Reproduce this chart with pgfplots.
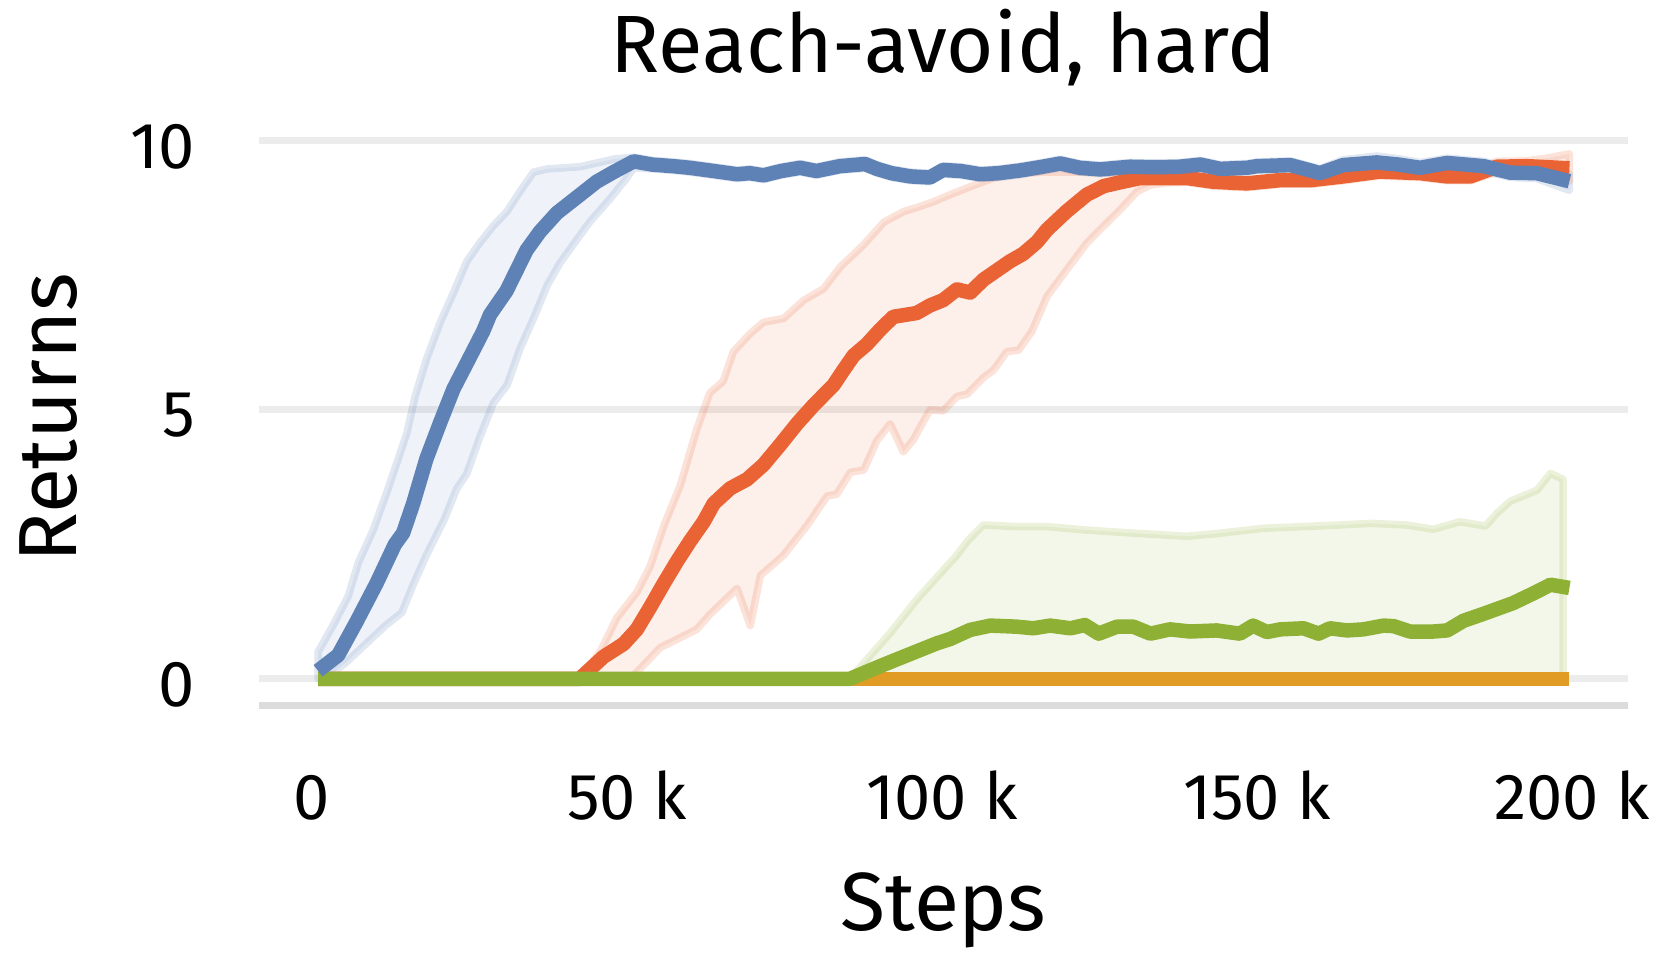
\documentclass[border=0pt]{standalone}
\usepackage{fontspec}
\setmainfont{Fira Sans}
\usepackage{pgfplots}
\pgfplotsset{compat=1.18}
\definecolor{cblue}{RGB}{94,129,182}
\definecolor{cred}{RGB}{234,99,52}
\definecolor{cgreen}{RGB}{142,176,52}
\definecolor{corange}{RGB}{224,156,37}
\definecolor{gridgray}{RGB}{236,236,236}
\definecolor{axisgray}{RGB}{220,220,220}
\begin{document}
\begin{tikzpicture}
\begin{axis}[name=ax,
  scale only axis, width=547.6pt, height=236.7pt,
  xmin=-8.37, xmax=208.9, ymin=-0.5, ymax=10.5,
  axis x line*=bottom, axis y line*=left,
  x axis line style={-, draw=axisgray, line width=2.8pt},
  y axis line style={draw=none},
  xtick={0,50,100,150,200}, xticklabels={0,50 k,100 k,150 k,200 k},
  ytick={0,5,10}, yticklabels={0,5,10},
  major tick length=0pt, tick style={draw=none},
  ymajorgrids, grid style={gridgray, line width=2.8pt},
  /pgf/number format/assume math mode=true,
  xticklabel style={anchor=base, inner sep=0pt, yshift=-45.6pt, font=\fontsize{26}{30}\selectfont},
  yticklabel style={anchor=east, inner sep=0pt, xshift=-25.3pt, yshift=-2.3pt, font=\fontsize{26}{30}\selectfont},
  title={Reach-avoid, hard},
  title style={at={(axis description cs:0.5,1)}, anchor=base, yshift=10.5pt, inner sep=0pt, font=\fontsize{32.5}{40}\selectfont},
  xlabel={Steps},
  xlabel style={at={(axis description cs:0.5,-0.380)}, anchor=base, inner sep=0pt, font=\fontsize{33}{40}\selectfont},
  ylabel={Returns},
  ylabel style={at={(axis description cs:-0.1335,0.487)}, anchor=base, inner sep=0pt, font=\fontsize{33}{40}\selectfont},
  every axis plot/.append style={line cap=butt, line join=round},
]
% ---- bands ----
\addplot[fill=cblue, fill opacity=0.1, draw=cblue, draw opacity=0.18, line width=3pt] coordinates {
(1,0.50)(3.4,1.00)(5.8,1.54)(7.4,2.16)(9.8,2.78)(12.1,3.53)(14.1,4.22)(15.1,4.57)(16.4,5.25)(18.2,5.94)
(20.4,6.63)(22.5,7.18)(24.6,7.76)(26.7,8.11)(28.8,8.42)(31.0,8.69)(33.1,9.07)(35.2,9.42)(37.4,9.48)
(42.6,9.52)(45.2,9.59)(47.9,9.66)(51.1,9.70)(54,9.64)(57.4,9.61)(60,9.58)(63.8,9.52)(67.5,9.46)(69.5,9.48)
(71.7,9.44)(74.5,9.52)(77.5,9.58)(80.1,9.52)(83.8,9.61)(87.8,9.65)(89.7,9.56)(92,9.48)(95,9.42)(98.1,9.40)
(100.2,9.54)(103,9.52)(106.1,9.46)(109,9.48)(112.4,9.53)(115.5,9.59)(118.8,9.66)(121.9,9.58)(125.1,9.55)
(129.9,9.60)(134,9.59)(137.8,9.60)(141,9.64)(144.2,9.56)(148.4,9.58)(150,9.61)(155.3,9.63)(158.5,9.53)
(160,9.48)(163.7,9.65)(169,9.72)(172.5,9.67)(175.9,9.60)(180.2,9.68)(186,9.62)(190.2,9.50)(194.4,9.50)(199.6,9.38)
(199.6,9.08)(194.4,9.30)(190.2,9.32)(186,9.44)(180.2,9.50)(175.9,9.40)(172.5,9.45)(169,9.48)(163.7,9.45)
(160,9.32)(158.5,9.37)(155.3,9.47)(150,9.45)(148.4,9.42)(144.2,9.40)(141,9.48)(137.8,9.44)(134,9.43)
(129.9,9.44)(125.1,9.39)(121.9,9.42)(118.8,9.50)(115.5,9.43)(112.4,9.37)(109,9.32)(106.1,9.30)(103,9.36)
(100.2,9.38)(98.1,9.24)(95,9.26)(92,9.32)(89.7,9.40)(87.8,9.49)(83.8,9.45)(80.1,9.36)(77.5,9.42)(74.5,9.36)
(71.7,9.28)(69.5,9.32)(67.5,9.30)(63.8,9.36)(60,9.42)(57.4,9.45)(54,9.48)(51.1,9.50)(50.0,9.31)(47.4,8.93)
(44.1,8.49)(41.5,8.07)(39.4,7.73)(37.4,7.32)(35.2,6.70)(33.1,6.15)(31.0,5.46)(28.8,5.12)(26.7,4.50)
(24.6,3.81)(23.0,3.53)(21.1,2.98)(18.2,2.30)(16.1,1.75)(14.3,1.23)(11.8,1.00)(8.6,0.65)(5.4,0.30)(3.2,0.10)(1,0)
} -- cycle;
\addplot[fill=cred, fill opacity=0.1, draw=cred, draw opacity=0.18, line width=3pt] coordinates {
(42.5,0)(45.8,0.51)(48.4,1.13)(51.6,1.61)(53.7,2.09)(55.9,2.85)(58.5,3.60)(61.1,4.64)(63.2,5.32)(65.3,5.53)
(66.9,6.08)(69.6,6.42)(71.7,6.63)(74.9,6.70)(78.1,7.04)(81.2,7.25)(83.9,7.66)(87.6,8.07)(90.8,8.49)(94.0,8.69)
(96.0,8.76)(98.7,8.87)(101.3,9.00)(105.0,9.17)(108.2,9.31)(111.9,9.40)(117.0,9.42)(123.0,9.42)(128.3,9.40)
(131.5,9.39)(135.7,9.38)(138.9,9.38)(143.1,9.31)(148.4,9.28)(153.7,9.34)(158.5,9.34)(163.7,9.41)(169.5,9.50)
(175.9,9.47)(180.2,9.41)(183.9,9.42)(188.1,9.62)(192.9,9.63)(196.0,9.68)(199.6,9.76)
(199.6,9.25)(196.0,9.36)(192.9,9.42)(188.1,9.42)(183.9,9.26)(180.2,9.26)(175.9,9.32)(169.5,9.35)(163.7,9.26)
(158.5,9.19)(153.7,9.19)(148.4,9.13)(143.1,9.16)(138.9,9.23)(135.7,9.22)(133.1,9.18)(131.0,9.06)(128.3,8.72)
(125.1,8.35)(123.0,8.10)(119.8,7.60)(116.7,7.11)(114.3,6.46)(112.2,6.11)(110.3,6.08)(108.2,5.74)(106.6,5.60)
(104.0,5.29)(102.4,5.25)(100.2,4.98)(98.1,5.00)(95.5,4.45)(93.9,4.22)(91.8,4.74)(89.7,4.43)(87.6,3.88)
(85.5,3.84)(83.3,3.43)(81.8,3.40)(78.6,2.85)(74.9,2.30)(71.2,1.92)(69.6,0.99)(67.5,1.68)(63.2,1.20)
(61.1,0.92)(55.3,0.58)(51.0,0.05)(42.5,0)
} -- cycle;
\addplot[fill=cgreen, fill opacity=0.1, draw=cgreen, draw opacity=0.18, line width=3pt] coordinates {
(85.4,0)(91.8,0.85)(96.0,1.47)(100.3,2.03)(102.4,2.30)(104.2,2.58)(106.6,2.86)(111.9,2.83)(116.7,2.83)
(122.5,2.77)(128.8,2.72)(138.9,2.65)(143.6,2.70)(151.1,2.80)(155.3,2.82)(163.2,2.86)(168.0,2.89)(173.8,2.86)
(178.0,2.78)(182.2,2.92)(186.3,2.84)(188.1,3.08)(190.2,3.30)(194.5,3.51)(196.6,3.82)(198.6,3.71)
(198.6,0)(85.4,0)
} -- cycle;
% ---- mean lines ----
\addplot[corange, line width=5.8pt] coordinates {(1,0)(199.6,0)};
\addplot[cred, line width=5.8pt] coordinates {
(1,0)(42.5,0)(46.3,0.41)(49.5,0.65)(51.6,0.92)(53.7,1.33)(55.9,1.78)(58.0,2.19)(60.1,2.57)(62.2,2.92)
(63.8,3.26)(66.4,3.54)(69.1,3.71)(71.7,3.98)(74.4,4.36)(77.0,4.74)(79.6,5.08)(82.8,5.46)(84.4,5.74)
(86.0,6.01)(88.1,6.22)(90.2,6.49)(92.3,6.73)(96.0,6.80)(98.1,6.94)(100.2,7.04)(102.4,7.24)(104.5,7.18)
(106.6,7.42)(108.7,7.59)(110.8,7.76)(112.9,7.90)(115.1,8.12)(116.7,8.35)(119.8,8.69)(123.0,9.00)
(125.7,9.16)(128.3,9.23)(131.5,9.31)(135.7,9.31)(138.9,9.31)(143.1,9.24)(148.4,9.21)(153.7,9.27)
(158.5,9.27)(163.7,9.34)(169.5,9.43)(175.9,9.40)(180.2,9.34)(183.9,9.34)(188.1,9.52)(192.9,9.53)(199.6,9.49)
};
\addplot[cgreen, line width=5.8pt] coordinates {
(1,0)(85.4,0)(90.7,0.26)(96.0,0.51)(99.2,0.66)(101.3,0.74)(104.5,0.91)(107.7,0.99)(111.9,0.97)(114.5,0.94)
(117.2,0.99)(120.4,0.94)(122.7,1.00)(124.9,0.84)(127.8,0.97)(130.4,0.97)(133.1,0.84)(136.2,0.92)(139.4,0.88)
(143.6,0.90)(147.3,0.84)(149.4,0.99)(151.6,0.87)(153.7,0.92)(157.4,0.94)(159.8,0.84)(161.6,0.94)(164.3,0.90)
(166.9,0.92)(170.1,0.99)(171.7,0.98)(174.3,0.88)(178.0,0.88)(180.2,0.90)(182.8,1.08)(186.0,1.21)(190.7,1.41)
(193.9,1.59)(196.6,1.75)(199.6,1.69)
};
\addplot[cblue, line width=5.8pt] coordinates {
(1,0.15)(4.2,0.44)(7.1,1.06)(10.3,1.78)(13.2,2.50)(14.5,2.71)(16.1,3.26)(18.2,4.09)(20.4,4.77)(22.5,5.39)
(25.1,5.98)(27.2,6.46)(28.3,6.77)(30.9,7.21)(34.1,7.97)(36.2,8.31)(38.9,8.66)(42.6,9.00)(45.2,9.24)(47.9,9.42)
(51.1,9.62)(54,9.56)(57.4,9.53)(60,9.50)(63.8,9.44)(67.5,9.38)(69.5,9.40)(71.7,9.36)(74.5,9.44)(77.5,9.50)
(80.1,9.44)(83.8,9.53)(87.8,9.57)(89.7,9.48)(92,9.40)(95,9.34)(98.1,9.32)(100.2,9.46)(103,9.44)(106.1,9.38)
(109,9.40)(112.4,9.45)(115.5,9.51)(118.8,9.58)(121.9,9.50)(125.1,9.47)(129.9,9.52)(134,9.51)(137.8,9.52)
(141,9.56)(144.2,9.48)(148.4,9.50)(150,9.53)(155.3,9.55)(158.5,9.45)(160,9.40)(163.7,9.55)(169,9.60)
(172.5,9.56)(175.9,9.50)(180.2,9.59)(186,9.53)(190.2,9.41)(194.4,9.40)(199.6,9.25)
};
\end{axis}
\pgfresetboundingbox
\path ([shift={(-103.6pt,-100.8pt)}]ax.south west) rectangle ([shift={(12.4pt,45.6pt)}]ax.north east);
\end{tikzpicture}
\end{document}
